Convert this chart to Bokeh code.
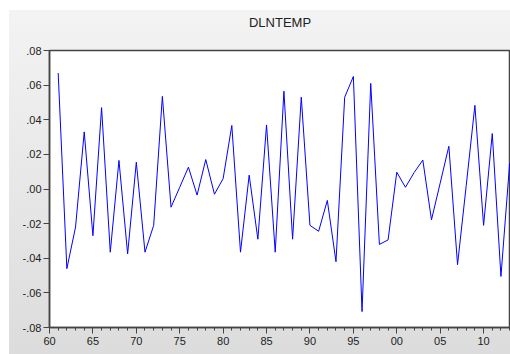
from bokeh.plotting import figure
from bokeh.models import Range1d, FixedTicker, CustomJSTickFormatter, Title
from bokeh.embed import file_html
from bokeh.resources import INLINE

years = list(range(1961, 2014))
dlntemp = [0.067, -0.046, -0.022, 0.033, -0.027, 0.047, -0.0365, 0.0165, -0.0375, 0.0155,
           -0.0365, -0.021, 0.0535, -0.0105, 0.001, 0.0126, -0.0035, 0.017, -0.003, 0.006,
           0.0367, -0.0365, 0.008, -0.029, 0.037, -0.0365, 0.0565, -0.029, 0.053, -0.021,
           -0.0244, -0.0066, -0.042, 0.053, 0.065, -0.0708, 0.061, -0.032, -0.0294, 0.0097,
           0.001, 0.0095, 0.0167, -0.0178, 0.0034, 0.0247, -0.0437, 0.002, 0.0483, -0.021,
           0.032, -0.0505, 0.0147]
x_major = list(range(1960, 2015, 5))
x_minor = list(range(1960, 2014))
y_ticks = [-0.08, -0.06, -0.04, -0.02, 0.0, 0.02, 0.04, 0.06, 0.08]
title_text = "DLNTEMP"

p = figure(width=501, height=344, x_range=Range1d(1960, 2013.1), y_range=Range1d(-0.08, 0.08),
           output_backend="svg", toolbar_location=None,
           min_border_left=40, min_border_right=0, min_border_top=40, min_border_bottom=27)
p.margin = (10, 0, 0, 9)
p.border_fill_color = None
p.background_fill_color = "white"
p.styles = {"background": "linear-gradient(#f3f3f3, #dcdcdc)"}
p.outline_line_color = "#444444"
p.outline_line_width = 1.5

# spacer closest to the frame, then the real title above it
p.add_layout(Title(text=" ", text_font_size="12px", standoff=0), "above")
p.add_layout(Title(text=title_text, align="center", vertical_align="top", standoff=6,
                   text_font="Liberation Sans", text_font_size="13px", text_font_style="normal",
                   text_color="#222222"), "above")

p.line(years, dlntemp, line_color="#0000ff", line_width=1)

p.xgrid.visible = False
p.ygrid.visible = False

for ax in (p.xaxis[0], p.yaxis[0]):
    ax.axis_line_color = "#444444"
    ax.axis_line_width = 1.5
    ax.major_tick_line_color = "#444444"
    ax.minor_tick_line_color = "#444444"
    ax.major_tick_in = 0
    ax.minor_tick_in = 0
    ax.major_label_text_font = "Liberation Sans"
    ax.major_label_text_font_size = "11px"
    ax.major_label_text_color = "#222222"

p.xaxis[0].ticker = FixedTicker(ticks=x_major, minor_ticks=x_minor)
p.xaxis[0].major_tick_out = 6
p.xaxis[0].minor_tick_out = 3
p.xaxis[0].major_label_standoff = 3
p.xaxis[0].formatter = CustomJSTickFormatter(code="return String(Math.round(tick) % 100).padStart(2, '0');")

p.yaxis[0].ticker = FixedTicker(ticks=y_ticks)
p.yaxis[0].major_tick_out = 6
p.yaxis[0].minor_tick_line_color = None
p.yaxis[0].major_label_standoff = 2
p.yaxis[0].formatter = CustomJSTickFormatter(code="var v = Math.round(Math.abs(tick) * 100); return (tick < -1e-9 ? '-' : '') + '.' + String(v).padStart(2, '0');")

open("out.html", "w").write(file_html(p, INLINE))
